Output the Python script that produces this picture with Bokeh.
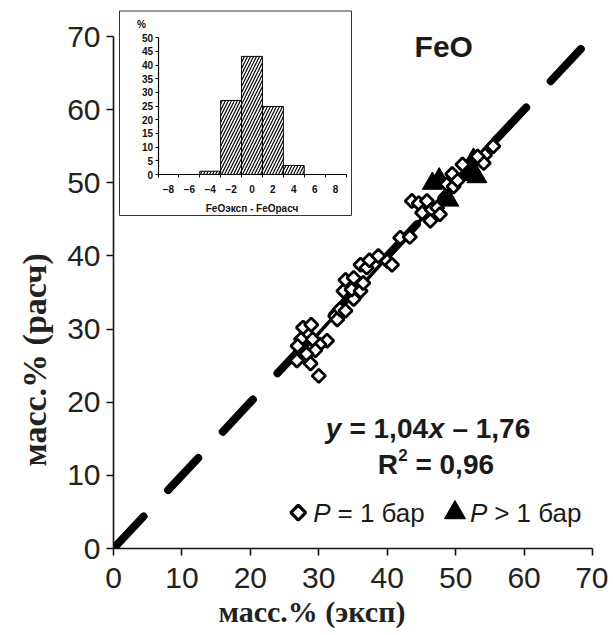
import numpy as np
from bokeh.plotting import figure
from bokeh.models import Range1d, LinearAxis, FixedTicker, Title
from bokeh.core.properties import value
from bokeh.embed import file_html
from bokeh.resources import INLINE

# ---------------- data ----------------
# P = 1 bar (open diamonds): experimental vs calculated FeO, wt.%
exp_p1 = [27.7, 28.9, 27.4, 31.2, 30.1, 29.5, 28.2, 26.8, 28.8, 30.0, 26.9, 29.1,
          32.4, 32.7, 33.1, 33.9, 35.1, 33.6, 34.8, 36.1, 36.5, 33.9, 35.1, 36.1,
          37.0, 37.4, 38.7, 40.0, 40.7,
          41.9, 43.3, 43.6, 44.6, 45.8, 45.1, 46.5, 47.3, 46.3, 47.7, 48.7, 49.7,
          49.5, 50.3, 51.0, 54.3, 54.1, 55.5, 53.2]
calc_p1 = [30.2, 30.6, 28.6, 28.4, 27.9, 27.1, 26.6, 25.7, 25.3, 23.6, 27.7, 28.6,
           31.8, 31.3, 32.7, 32.5, 34.1, 35.2, 35.4, 35.2, 36.3, 36.7, 37.0, 38.8,
           38.4, 39.4, 40.0, 39.3, 38.8,
           42.5, 42.6, 47.5, 47.2, 47.5, 45.9, 46.3, 46.6, 44.8, 45.7, 49.8, 49.5,
           51.2, 50.3, 52.5, 53.8, 52.7, 55.0, 53.6]
# P > 1 bar (filled triangles)
exp_hp = [46.6, 47.6, 49.0, 51.6, 52.6, 53.1, 52.3]
calc_hp = [49.9, 50.5, 47.6, 51.1, 53.2, 50.8, 52.0]

# 1:1 line and regression y = 1.04x - 1.76
ident_x = [0, 70]
ident_y = [0, 70]
reg_slope, reg_icpt = 1.04, -1.76
reg_x = [26.0, 56.0]

main_ticks = [0, 10, 20, 30, 40, 50, 60, 70]

# inset histogram of FeOexp - FeOcalc, %
hist_centers = [-4, -2, 0, 2, 4]
hist_pct = [1.2, 27.1, 43.2, 24.9, 3.3]
hist_bin = 2
hist_edges = [-9, -7, -5, -3, -1, 1, 3, 5, 7, 9]
hist_xlabels = [-8, -6, -4, -2, 0, 2, 4, 6, 8]
hist_yticks = [0, 5, 10, 15, 20, 25, 30, 35, 40, 45, 50]

# ---------------- geometry ----------------
BL, BR, BT, BB = 113, 16, 9, 87
FW, FH = 479, 539
W, H = BL + FW + BR, BT + FH + BB
XMAX = 70
PX_PER_Y = (FH - 27) / 70.0          # y=70 sits 27 px below frame top
YTOP = FH / PX_PER_Y

# inset placement in frame pixels
IN_XL, IN_XR = 44.5, 232.5           # hist x=-9 and x=9
IN_Y0, IN_Y50 = 165.0, 28.3          # hist y=0 and y=50 (from frame top)
hsx = (IN_XR - IN_XL) / 18.0
hsy = (IN_Y0 - IN_Y50) / 50.0
hx_start = -9 - IN_XL / hsx
hx_end = hx_start + FW / hsx
hy_start = -(FH - IN_Y0) / hsy
hy_end = hy_start + FH / hsy

def hx(px):
    return hx_start + px / hsx

def hy(py_top):
    return (IN_Y0 - py_top) / hsy

SANS = "Liberation Sans"
SERIF = "Liberation Serif"
NB = "\u00a0"

p = figure(width=W, height=H, output_backend="svg", toolbar_location=None,
           x_range=Range1d(0, XMAX), y_range=Range1d(0, YTOP),
           min_border_left=BL, min_border_right=BR, min_border_top=BT,
           min_border_bottom=BB, outline_line_color=None,
           background_fill_color="white", border_fill_color="white")
p.grid.visible = False

for ax in (p.below[0], p.left[0]):
    ax.bounds = (0, 70)
    ax.ticker = FixedTicker(ticks=main_ticks)
    ax.axis_line_width = 1.6
    ax.axis_line_color = "#111111"
    ax.major_tick_line_width = 1.6
    ax.major_tick_line_color = "#111111"
    ax.major_tick_out = 7
    ax.major_tick_in = 0
    ax.minor_tick_out = 0
    ax.minor_tick_in = 0
    ax.major_label_text_font = SANS
    ax.major_label_text_font_size = "30px"
    ax.major_label_text_color = "#222222"
p.below[0].major_label_standoff = 12
p.left[0].major_label_standoff = 6

# axis titles (shifted along the axis as in the original)
p.add_layout(Title(text="масс.% (эксп)", align="left", offset=105,
                   vertical_align="top", text_font=SERIF,
                   text_font_size="30px", text_font_style="bold",
                   text_color="#222222", standoff=8), "below")
p.add_layout(Title(text="масс.% (расч)", align="left", offset=82,
                   vertical_align="middle", text_font=SERIF,
                   text_font_size="34px", text_font_style="bold",
                   text_color="#222222", standoff=22), "left")

p.extra_x_ranges = {"hx": Range1d(hx_start, hx_end)}
p.extra_y_ranges = {"hy": Range1d(hy_start, hy_end)}

# ---- main lines ----
p.line(ident_x, ident_y, line_color="black", line_width=8, line_dash="44 36",
       line_cap="round")
reg_y = [reg_slope * v + reg_icpt for v in reg_x]
p.line(reg_x, reg_y, line_color="black", line_width=3.5)

# ---- points ----
p.scatter(exp_hp, calc_hp, marker="triangle", size=20, fill_color="black",
          line_color="black")
p.scatter(exp_p1, calc_p1, marker="square", angle=np.pi / 4, size=9.5,
          fill_color="white", line_color="black", line_width=2.8)

# ---- inset ----
p.quad(left=[hx(6)], right=[hx(238)], top=[hy(1.5)], bottom=[hy(206)],
       x_range_name="hx", y_range_name="hy", fill_color="white",
       line_color="#333333", line_width=1)
p.vbar(x=hist_centers, top=hist_pct, width=hist_bin, bottom=0,
       x_range_name="hx", y_range_name="hy", fill_color="white",
       line_color="black", line_width=1, hatch_pattern="/", hatch_scale=6,
       hatch_weight=1.2, hatch_color="black")

ax_x = LinearAxis(x_range_name="hx", y_range_name="hy", fixed_location=0,
                  bounds=(-9, 9),
                  ticker=FixedTicker(ticks=hist_xlabels, minor_ticks=hist_edges),
                  major_tick_out=0, major_tick_in=0, minor_tick_out=3,
                  minor_tick_in=0, axis_line_width=1.2,
                  minor_tick_line_width=1, minor_tick_line_color="black",
                  major_label_standoff=7,
                  major_label_text_font=SANS, major_label_text_font_size="10px",
                  major_label_text_font_style="bold",
                  major_label_text_color="#111111")
p.add_layout(ax_x, "below")
ax_y = LinearAxis(x_range_name="hx", y_range_name="hy", fixed_location=-9,
                  bounds=(0, 50), ticker=FixedTicker(ticks=hist_yticks),
                  major_tick_out=3, major_tick_in=0, minor_tick_out=0,
                  minor_tick_in=0, axis_line_width=1.2, major_tick_line_width=1,
                  major_label_standoff=2, major_label_text_font=SANS,
                  major_label_text_font_size="10px",
                  major_label_text_font_style="bold",
                  major_label_text_color="#111111")
p.add_layout(ax_y, "left")

p.text(x=[hx(28)], y=[hy(15)], text=["%"], x_range_name="hx", y_range_name="hy",
       text_font=value(SANS), text_font_size="10px", text_font_style="bold",
       text_align="center", text_baseline="middle", text_color="#111111")
p.text(x=[0], y=[hy(199)], text=["FeOэксп - FeOрасч"], x_range_name="hx",
       y_range_name="hy", text_font=value(SANS), text_font_size="10px",
       text_font_style="bold", text_align="center", text_baseline="middle",
       text_color="#111111")

# ---- annotations in main axes ----
def txt(x, y, s, size, style="normal", xoff=0, yoff=0, align="left",
        font=SANS, color="#1a1a1a"):
    p.text(x=[x], y=[y], text=[s], x_offset=xoff, y_offset=yoff,
           text_font=value(font), text_font_size=size, text_font_style=style,
           text_align=align, text_baseline="middle", text_color=color)

txt(44.0, 68.6, "FeO", "30px", "bold")

# equation
ex, ey = 31.0, 16.4
txt(ex, ey, "y", "28px", "bold italic", xoff=0)
txt(ex, ey, NB + "=" + NB + "1,04", "28px", "bold", xoff=16)
txt(ex, ey, "x", "28px", "bold italic", xoff=103)
txt(ex, ey, NB + "\u2013" + NB + "1,76", "28px", "bold", xoff=119)
rx, ry = 38.6, 11.5
txt(rx, ry, "R", "28px", "bold", xoff=0)
txt(rx, ry, "2", "17px", "bold", xoff=20.5, yoff=-9)
txt(rx, ry, NB + "=" + NB + "0,96", "28px", "bold", xoff=30)

# legend
lx1, lx2, ly = 27.0, 49.9, 4.9
p.scatter([lx1], [ly], marker="square", angle=np.pi / 4, size=10.5,
          fill_color="white", line_color="black", line_width=3.2)
txt(lx1, ly, "P", "26px", "italic", xoff=15)
txt(lx1, ly, NB + "=" + NB + "1" + NB + "бар", "26px", xoff=32)
p.scatter([lx2], [ly], marker="triangle", size=21, fill_color="black",
          line_color="black")
txt(lx2, ly, "P", "26px", "italic", xoff=15)
txt(lx2, ly, NB + ">" + NB + "1" + NB + "бар", "26px", xoff=32)

open("out.html", "w").write(file_html(p, INLINE))
